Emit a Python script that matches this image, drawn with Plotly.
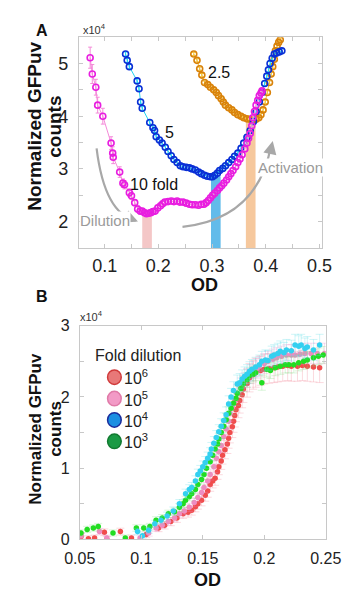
import plotly.graph_objects as go

# ---------------- Panel A data (x = OD, y = GFPuv counts / 1e4) ----------------
a10_x = [0.073, 0.077, 0.0836, 0.087, 0.0966, 0.112, 0.115, 0.116, 0.128, 0.134, 0.137, 0.146, 0.150,
         0.156, 0.1615, 0.166, 0.170, 0.174, 0.178, 0.182, 0.186, 0.190, 0.194, 0.199, 0.204, 0.208,
         0.212, 0.218, 0.224, 0.229, 0.235, 0.240, 0.246, 0.252, 0.258, 0.263, 0.269, 0.275, 0.280,
         0.285, 0.289, 0.293, 0.297, 0.301, 0.305, 0.310, 0.314, 0.318, 0.322, 0.327, 0.331, 0.335,
         0.339, 0.344, 0.348, 0.352, 0.356, 0.361, 0.365, 0.368, 0.371, 0.374, 0.376, 0.379, 0.382,
         0.385, 0.388, 0.391, 0.393]
a10_y = [5.11, 4.80, 4.55, 4.21, 4.00, 3.49, 3.30, 3.22, 2.94, 2.73, 2.70, 2.55, 2.49,
         2.36, 2.24, 2.20, 2.20, 2.17, 2.15, 2.16, 2.17, 2.19, 2.20, 2.26, 2.30, 2.34,
         2.37, 2.38, 2.39, 2.38, 2.39, 2.37, 2.37, 2.35, 2.33, 2.32, 2.32, 2.31, 2.33,
         2.33, 2.36, 2.40, 2.45, 2.50, 2.54, 2.59, 2.64, 2.68, 2.73, 2.79, 2.85, 2.91,
         2.97, 3.04, 3.12, 3.19, 3.27, 3.38, 3.49, 3.58, 3.67, 3.82, 3.97, 4.09, 4.21,
         4.30, 4.39, 4.44, 4.48]
a10_err = [0.20, 0.18, 0.15, 0.15, 0.15, 0.12, 0.12, 0.12, 0.10, 0.08, 0.08, 0.07, 0.07,
           0.06, 0.06, 0.06, 0.05, 0.05, 0.05, 0.05, 0.05, 0.05, 0.05, 0.05, 0.05, 0.05,
           0.05, 0.05, 0.05, 0.05, 0.05, 0.05, 0.05, 0.05, 0.05, 0.05, 0.05, 0.05, 0.05,
           0.05, 0.04, 0.04, 0.04, 0.04, 0.04, 0.04, 0.04, 0.04, 0.04, 0.04, 0.04, 0.04,
           0.04, 0.04, 0.04, 0.04, 0.04, 0.04, 0.04, 0.04, 0.04, 0.04, 0.04, 0.04, 0.04,
           0.04, 0.04, 0.04, 0.04]

a5_x = [0.139, 0.142, 0.146, 0.1605, 0.164, 0.167, 0.170, 0.184, 0.190, 0.193, 0.196, 0.202, 0.207,
        0.213, 0.218, 0.224, 0.229, 0.235, 0.241, 0.246, 0.252, 0.258, 0.263, 0.269, 0.275, 0.280,
        0.286, 0.291, 0.297, 0.301, 0.305, 0.310, 0.314, 0.320, 0.325, 0.331, 0.337, 0.342, 0.348,
        0.354, 0.359, 0.365, 0.371, 0.377, 0.382, 0.388, 0.393, 0.398, 0.402, 0.405, 0.408, 0.412,
        0.416, 0.420, 0.425, 0.430]
a5_y = [5.18, 5.06, 4.94, 4.67, 4.52, 4.27, 4.15, 3.88, 3.78, 3.73, 3.61, 3.55, 3.49,
        3.41, 3.33, 3.25, 3.18, 3.12, 3.06, 3.04, 3.03, 3.02, 3.00, 2.98, 2.94, 2.91,
        2.88, 2.86, 2.85, 2.85, 2.88, 2.92, 2.97, 3.01, 3.06, 3.12, 3.18, 3.24, 3.30,
        3.39, 3.49, 3.60, 3.73, 3.90, 4.09, 4.27, 4.45, 4.62, 4.76, 4.88, 5.00, 5.10,
        5.18, 5.20, 5.22, 5.24]

a25_x = [0.266, 0.272, 0.277, 0.281, 0.286, 0.292, 0.297, 0.303, 0.308, 0.312, 0.317, 0.321, 0.325,
         0.331, 0.337, 0.342, 0.348, 0.354, 0.359, 0.365, 0.371, 0.376, 0.382, 0.387, 0.391, 0.395,
         0.399, 0.403, 0.407, 0.410, 0.413, 0.416, 0.418, 0.421, 0.424, 0.427]
a25_y = [5.18, 5.06, 4.90, 4.78, 4.64, 4.60, 4.55, 4.50, 4.45, 4.39, 4.33, 4.27, 4.21,
         4.16, 4.12, 4.07, 4.03, 4.00, 3.97, 3.95, 3.94, 3.93, 3.94, 3.97, 4.03, 4.12,
         4.27, 4.45, 4.64, 4.80, 4.94, 5.08, 5.24, 5.33, 5.40, 5.45]

# shaded bands at the minima (x from, x to, height)
band_x0 = [0.170, 0.298, 0.363]
band_x1 = [0.188, 0.316, 0.381]
band_top = [2.15, 2.86, 3.93]
band_col = ["rgba(240,180,180,0.75)", "rgba(70,175,230,0.85)", "rgba(245,190,140,0.85)"]

# ---------------- Panel B data ----------------
b6_x = [0.051, 0.057, 0.062, 0.070, 0.072, 0.083, 0.092, 0.104, 0.114, 0.119, 0.124, 0.129, 0.134,
        0.138, 0.141, 0.144, 0.146, 0.149, 0.152, 0.154, 0.156, 0.158, 0.160, 0.162, 0.163, 0.165,
        0.166, 0.168, 0.170, 0.171, 0.172, 0.174, 0.175, 0.176, 0.177, 0.179, 0.180, 0.182, 0.183,
        0.186, 0.188, 0.191, 0.193, 0.197, 0.200, 0.204, 0.208, 0.211, 0.215, 0.219, 0.222, 0.227,
        0.231, 0.235, 0.240, 0.245]
b6_y = [0.04, 0.01, 0.02, 0.10, 0.00, 0.11, 0.02, 0.07, 0.16, 0.20, 0.25, 0.30, 0.36,
        0.38, 0.41, 0.46, 0.50, 0.55, 0.62, 0.68, 0.77, 0.82, 0.86, 0.95, 1.02, 1.10,
        1.18, 1.26, 1.34, 1.42, 1.50, 1.58, 1.66, 1.74, 1.82, 1.88, 1.95, 2.03, 2.11,
        2.19, 2.27, 2.31, 2.34, 2.37, 2.39, 2.40, 2.41, 2.42, 2.43, 2.44, 2.43, 2.43,
        2.44, 2.43, 2.42, 2.41]

b5_x = [0.051, 0.066, 0.072, 0.099, 0.106, 0.112, 0.117, 0.122, 0.127, 0.131, 0.135, 0.139, 0.143,
        0.146, 0.149, 0.151, 0.154, 0.156, 0.159, 0.161, 0.163, 0.165, 0.167, 0.169, 0.171, 0.172,
        0.174, 0.176, 0.178, 0.181, 0.184, 0.186, 0.189, 0.191, 0.194, 0.196, 0.200, 0.203, 0.207,
        0.210, 0.214, 0.218, 0.222, 0.225, 0.229, 0.233, 0.238, 0.243, 0.249]
b5_y = [0.05, 0.11, 0.02, 0.02, 0.09, 0.16, 0.20, 0.25, 0.30, 0.36, 0.40, 0.45, 0.52,
        0.59, 0.66, 0.73, 0.82, 0.91, 1.02, 1.14, 1.23, 1.32, 1.44, 1.55, 1.66, 1.77,
        1.86, 1.95, 2.05, 2.14, 2.21, 2.27, 2.32, 2.36, 2.40, 2.43, 2.47, 2.50, 2.53,
        2.55, 2.57, 2.59, 2.59, 2.59, 2.60, 2.61, 2.61, 2.61, 2.61]

b4_x = [0.097, 0.101, 0.106, 0.111, 0.116, 0.121, 0.126, 0.131, 0.136, 0.139, 0.141, 0.144, 0.146,
        0.148, 0.150, 0.152, 0.154, 0.156, 0.157, 0.159, 0.161, 0.163, 0.165, 0.167, 0.169, 0.171,
        0.173, 0.175, 0.178, 0.180, 0.182, 0.184, 0.186, 0.188, 0.190, 0.193, 0.196, 0.198, 0.201,
        0.203, 0.206, 0.208, 0.211, 0.213, 0.216, 0.218, 0.222, 0.225, 0.228, 0.230, 0.233, 0.235,
        0.240, 0.245]
b4_y = [0.11, 0.05, 0.13, 0.22, 0.27, 0.33, 0.40, 0.50, 0.64, 0.70, 0.73, 0.82, 0.91,
        0.96, 1.02, 1.08, 1.14, 1.20, 1.27, 1.35, 1.43, 1.51, 1.59, 1.67, 1.75, 1.90,
        2.00, 2.09, 2.18, 2.20, 2.25, 2.29, 2.32, 2.36, 2.39, 2.42, 2.45, 2.50, 2.52,
        2.51, 2.57, 2.59, 2.61, 2.64, 2.62, 2.66, 2.65, 2.73, 2.71, 2.73, 2.68, 2.70,
        2.66, 2.73]

b3_x = [0.051, 0.056, 0.061, 0.065, 0.077, 0.087, 0.096, 0.102, 0.107, 0.112, 0.117, 0.122, 0.127,
        0.131, 0.134, 0.136, 0.139, 0.141, 0.144, 0.146, 0.149, 0.151, 0.153, 0.156, 0.158, 0.160,
        0.162, 0.163, 0.165, 0.167, 0.169, 0.171, 0.173, 0.175, 0.177, 0.178, 0.181, 0.183, 0.186,
        0.188, 0.191, 0.193, 0.198, 0.202, 0.205, 0.209, 0.213, 0.217, 0.220, 0.224, 0.228, 0.232,
        0.235, 0.240, 0.244, 0.248]
b3_y = [0.09, 0.14, 0.16, 0.18, 0.09, 0.02, 0.16, 0.16, 0.18, 0.27, 0.30, 0.36, 0.39,
        0.45, 0.50, 0.55, 0.60, 0.64, 0.70, 0.77, 0.84, 0.91, 1.00, 1.09, 1.18, 1.27,
        1.34, 1.41, 1.50, 1.59, 1.68, 1.77, 1.84, 1.91, 1.98, 2.05, 2.12, 2.18, 2.24,
        2.30, 2.32, 2.34, 2.20, 2.39, 2.37, 2.41, 2.43, 2.45, 2.45, 2.45, 2.48, 2.50,
        2.52, 2.55, 2.57, 2.59]

legend_title = "Fold dilution"
legend_labels = ["10<sup>6</sup>", "10<sup>5</sup>", "10<sup>4</sup>", "10<sup>3</sup>"]
legend_fill = ["#e87878", "#f29ac6", "#1c8fe2", "#1a9a44"]
legend_edge = ["#d03a3a", "#e07aa8", "#1a2c9c", "#127a30"]

FONT = "Liberation Sans, Arial, sans-serif"
W, H = 360, 597
fig = go.Figure()


def px(x):
    return x / W


def py(y):
    return 1 - y / H


def label(x, y, text, size, color="#111", angle=0):
    fig.add_annotation(x=px(x), y=py(y), xref="paper", yref="paper", text=text, textangle=angle,
                       showarrow=False, xanchor="center", yanchor="middle",
                       font=dict(size=size, color=color, family=FONT))


# ---- Panel A ----
for x0, x1, top, col in zip(band_x0, band_x1, band_top, band_col):
    fig.add_shape(type="rect", xref="x", yref="y", x0=x0, x1=x1, y0=1.5, y1=top,
                  fillcolor=col, line_width=0, layer="below")


def a_trace(x, y, err, mcol, lcol, ecol):
    return go.Scatter(x=x, y=y, mode="lines+markers", xaxis="x", yaxis="y", showlegend=False,
                      line=dict(color=lcol, width=1),
                      marker=dict(symbol="circle-open", size=6, color=mcol, line=dict(width=1.6, color=mcol)),
                      error_y=dict(type="data", array=err, color=ecol, thickness=1, width=2))


fig.add_trace(a_trace(a25_x, a25_y, [0.03] * len(a25_x), "#d9820a", "#f2c23a", "#f2c23a"))
fig.add_trace(a_trace(a5_x, a5_y, [0.04] * len(a5_x), "#0a2fd6", "#22d4ee", "#22d4ee"))
fig.add_trace(a_trace(a10_x, a10_y, a10_err, "#e81ee0", "#f48ad8", "#f48ad8"))

# curved arrows
arrow_col = "#a8a8a8"
fig.add_shape(type="path", xref="x", yref="y", path="M 0.085,3.39 Q 0.10,2.15 0.158,2.02",
              line=dict(color=arrow_col, width=2.2))
fig.add_annotation(x=0.162, y=2.0, ax=0.150, ay=2.05, xref="x", yref="y", axref="x", ayref="y",
                   text="", showarrow=True, arrowhead=2, arrowsize=1.2, arrowwidth=2.2, arrowcolor=arrow_col)
fig.add_shape(type="path", xref="x", yref="y", path="M 0.245,1.90 Q 0.385,2.05 0.410,3.45",
              line=dict(color=arrow_col, width=2.2))
fig.add_annotation(x=0.413, y=3.53, ax=0.408, ay=3.30, xref="x", yref="y", axref="x", ayref="y",
                   text="", showarrow=True, arrowhead=2, arrowsize=1.2, arrowwidth=2.2, arrowcolor=arrow_col)


def dlabel(x, y, text, size, color="#111", bg=None):
    fig.add_annotation(x=x, y=y, xref="x", yref="y", text=text, showarrow=False,
                       xanchor="center", yanchor="middle", bgcolor=bg, borderpad=0,
                       font=dict(size=size, color=color, family=FONT))


dlabel(0.100, 2.03, "Dilution", 15, "#9a9a9a", "white")
dlabel(0.447, 3.03, "Activation", 15, "#9a9a9a", "white")
dlabel(0.192, 2.70, "10 fold", 16)
dlabel(0.221, 3.70, "5", 16)
dlabel(0.313, 4.82, "2.5", 16)

# ---- Panel B ----
def b_trace(x, y, err, col, ecol):
    return go.Scatter(x=x, y=y, mode="markers", xaxis="x2", yaxis="y2", showlegend=False,
                      marker=dict(size=5.5, color=col),
                      error_y=dict(type="data", array=err, color=ecol, thickness=0.8, width=4))


def errs(y, k):
    return [0.04 + k * v for v in y]


fig.add_trace(b_trace(b6_x, b6_y, errs(b6_y, 0.07), "#f04c4c", "rgba(240,120,140,0.35)"))
fig.add_trace(b_trace(b5_x, b5_y, errs(b5_y, 0.04), "#ee8cc0", "rgba(230,130,200,0.35)"))
fig.add_trace(b_trace(b3_x, b3_y, errs(b3_y, 0.03), "#22dd22", "rgba(120,220,120,0.35)"))
fig.add_trace(b_trace(b4_x, b4_y, errs(b4_y, 0.04), "#33d0f0", "rgba(80,220,230,0.35)"))

# manual legend (inside panel B)
fig.add_annotation(x=px(84), y=py(358), xref="paper", yref="paper", text=legend_title, showarrow=False,
                   xanchor="left", yanchor="middle", font=dict(size=16, color="#222", family=FONT))
for i, (lab, fc, lc) in enumerate(zip(legend_labels, legend_fill, legend_edge)):
    cy = 380 + i * 22
    fig.add_shape(type="circle", xref="paper", yref="paper", x0=px(100.5), x1=px(115.5),
                  y0=py(cy + 7.5), y1=py(cy - 7.5), fillcolor=fc, line=dict(color=lc, width=1.5))
    fig.add_annotation(x=px(116), y=py(cy), xref="paper", yref="paper", text=lab, showarrow=False,
                       xanchor="left", yanchor="middle", font=dict(size=16, color="#222", family=FONT))

# ---- static labels ----
label(29, 23, "<b>A</b>", 16)
label(28, 297, "<b>B</b>", 16)
label(86, 22, "x10<sup>4</sup>", 11, "#333")
label(83, 317, "x10<sup>4</sup>", 11, "#333")
label(20, 122, "<b>Normalized GFPuv</b>", 19, angle=-90)
label(42, 122, "<b>counts</b>", 19, angle=-90)
label(22, 433, "<b>Normalized GFPuv</b>", 17, angle=-90)
label(43, 433, "<b>counts</b>", 17, angle=-90)
label(207, 285, "<b>OD</b>", 18)
label(210, 589, "<b>OD</b>", 18)

axis_common = dict(showgrid=False, zeroline=False, showline=True, linecolor="#c8c8c8", linewidth=1,
                   mirror="ticks", ticks="inside", ticklen=4, tickcolor="#c8c8c8")
minor_tick = dict(ticks="inside", ticklen=4, tickcolor="#c8c8c8")

fig.update_layout(
    width=W, height=H, margin=dict(l=0, r=0, t=0, b=0),
    paper_bgcolor="white", plot_bgcolor="white",
    font=dict(family=FONT),
    xaxis=dict(domain=[px(69), px(336)], anchor="y", range=[0.052, 0.505],
               tickvals=[0.1, 0.2, 0.3, 0.4, 0.5], ticktext=["0.1", "0.2", "0.3", "0.4", "0.5"],
               minor=dict(dtick=0.05, **minor_tick), ticklabelstandoff=1,
               tickfont=dict(size=18, color="#222", family=FONT), **axis_common),
    yaxis=dict(domain=[py(247), py(30)], anchor="x", range=[1.5, 5.5],
               tickvals=[2, 3, 4, 5], minor=dict(dtick=0.5, **minor_tick), ticklabelstandoff=6,
               tickfont=dict(size=18, color="#222", family=FONT), **axis_common),
    xaxis2=dict(domain=[px(70), px(340)], anchor="y2", range=[0.05, 0.25],
                tickvals=[0.05, 0.1, 0.15, 0.2, 0.25], ticktext=["0.05", "0.1", "0.15", "0.2", "0.25"],
                ticklabelstandoff=4, tickfont=dict(size=16, color="#222", family=FONT), **axis_common),
    yaxis2=dict(domain=[py(547), py(327)], anchor="x2", range=[0, 3],
                tickvals=[0, 1, 2, 3], minor=dict(dtick=0.5, **minor_tick), ticklabelstandoff=6,
                tickfont=dict(size=16, color="#222", family=FONT), **axis_common),
    showlegend=False,
)

fig.write_html("out.html")
